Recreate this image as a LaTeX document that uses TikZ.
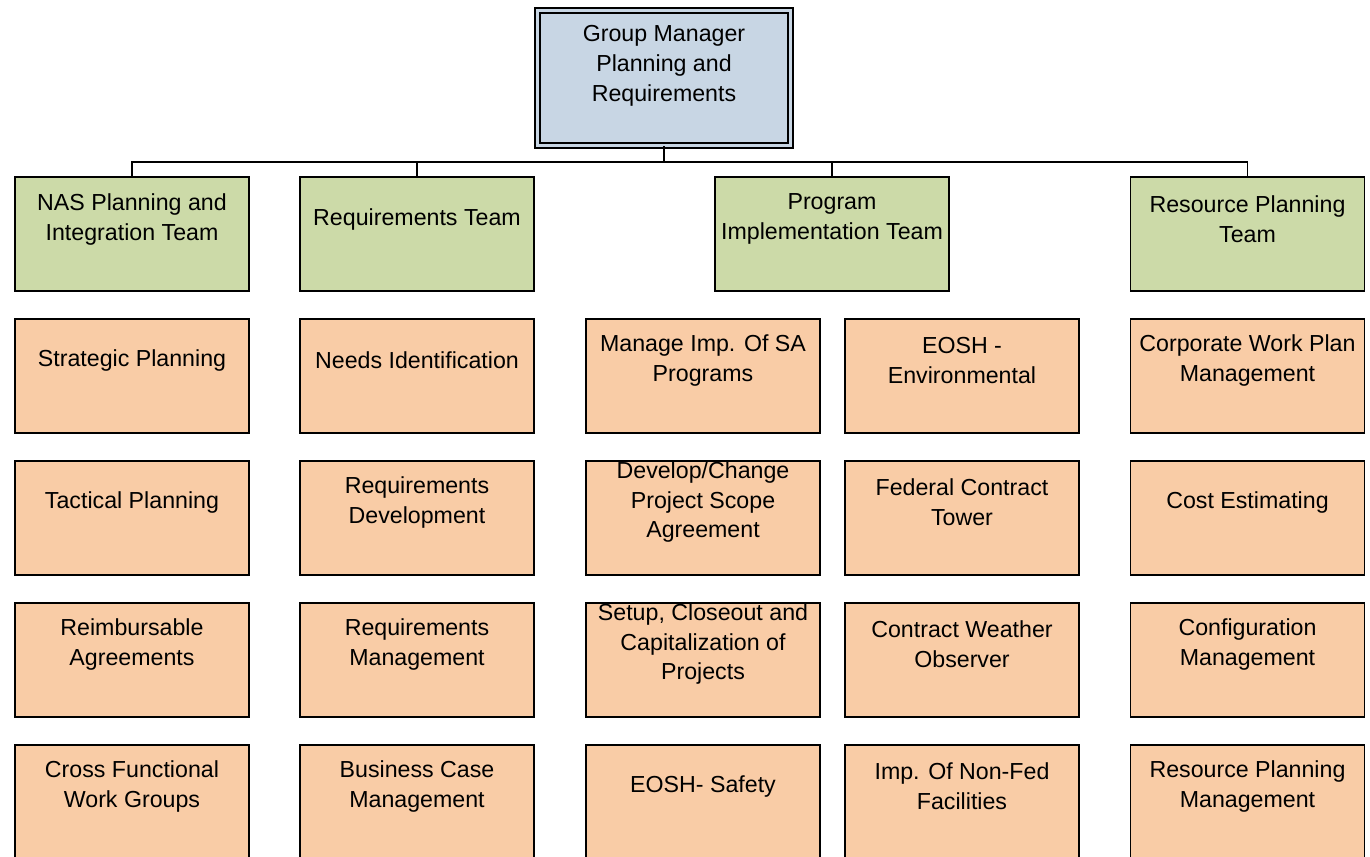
\documentclass[tikz,border=0pt]{standalone}
\usepackage{fontspec}
\setmainfont{Liberation Sans}
\usetikzlibrary{positioning, calc}
\definecolor{mgrblue}{RGB}{200,214,228}
\definecolor{teamgreen}{RGB}{204,218,168}
\definecolor{taskorange}{RGB}{249,204,166}

\begin{document}
\begin{tikzpicture}[x=0.02cm, y=-0.02cm,
    box/.style={draw, line width=1pt, minimum width=4.68cm, minimum height=2.28cm, inner sep=0pt},
    boxtext/.style={align=center, font=\fontsize{13.2}{17}\selectfont, inner sep=0pt},
    link/.style={line width=1pt}]
  \useasboundingbox (0, 0) rectangle (1370, 856);

  \node[box, fill=mgrblue, line width=0.8pt, double=mgrblue, double distance=2pt,
        minimum width=5.06cm, minimum height=2.7cm] (gm) at (664, 78) {};
  \node[boxtext] (gm-t) at ([yshift=-1.12cm]gm.north) {Group Manager\\Planning and\\Requirements};

  % teams
  \foreach \name/\x/\txt in {nas/132/{NAS Planning and\\Integration Team},
                              req/417/{Requirements Team},
                              pit/832/{Program\\Implementation Team},
                              rpt/1247.5/{Resource Planning\\Team}}{
    \node[box, fill=teamgreen] (\name) at (\x, 234) {};
    \node[boxtext] (\name-t) at ([yshift=-0.86cm]\name.north) {\txt};
  }

  % tasks
  \foreach \name/\x/\y/\txt in {
      sp/132/376/{Strategic Planning},
      tp/132/518/{Tactical Planning},
      ra/132/660/{Reimbursable\\Agreements},
      cf/132/802/{Cross Functional\\Work Groups},
      ni/417/376/{Needs Identification},
      rd/417/518/{Requirements\\Development},
      rm/417/660/{Requirements\\Management},
      bc/417/802/{Business Case\\Management},
      mi/703/376/{Manage Imp. Of SA\\Programs},
      dc/703/518/{Develop/Change\\Project Scope\\Agreement},
      sc/703/660/{Setup, Closeout and\\Capitalization of\\Projects},
      es/703/802/{EOSH- Safety},
      ee/962/376/{EOSH -\\Environmental},
      fc/962/518/{Federal Contract\\Tower},
      cw/962/660/{Contract Weather\\Observer},
      nf/962/802/{Imp. Of Non-Fed\\Facilities},
      cp/1247.5/376/{Corporate Work Plan\\Management},
      ce/1247.5/518/{Cost Estimating},
      cm/1247.5/660/{Configuration\\Management},
      rp/1247.5/802/{Resource Planning\\Management}}{
    \node[box, fill=taskorange] (\name) at (\x, \y) {};
    \node[boxtext] (\name-t) at ([yshift=-0.84cm]\name.north) {\txt};
  }

  \coordinate (bus) at (664, 162);
  \draw[link] (gm.south) -- (bus);
  \draw[link] (nas.north) |- (bus) -| (rpt.north);
  \draw[link] (req.north) -- (req.north |- bus);
  \draw[link] (pit.north) -- (pit.north |- bus);
\end{tikzpicture}
\end{document}
